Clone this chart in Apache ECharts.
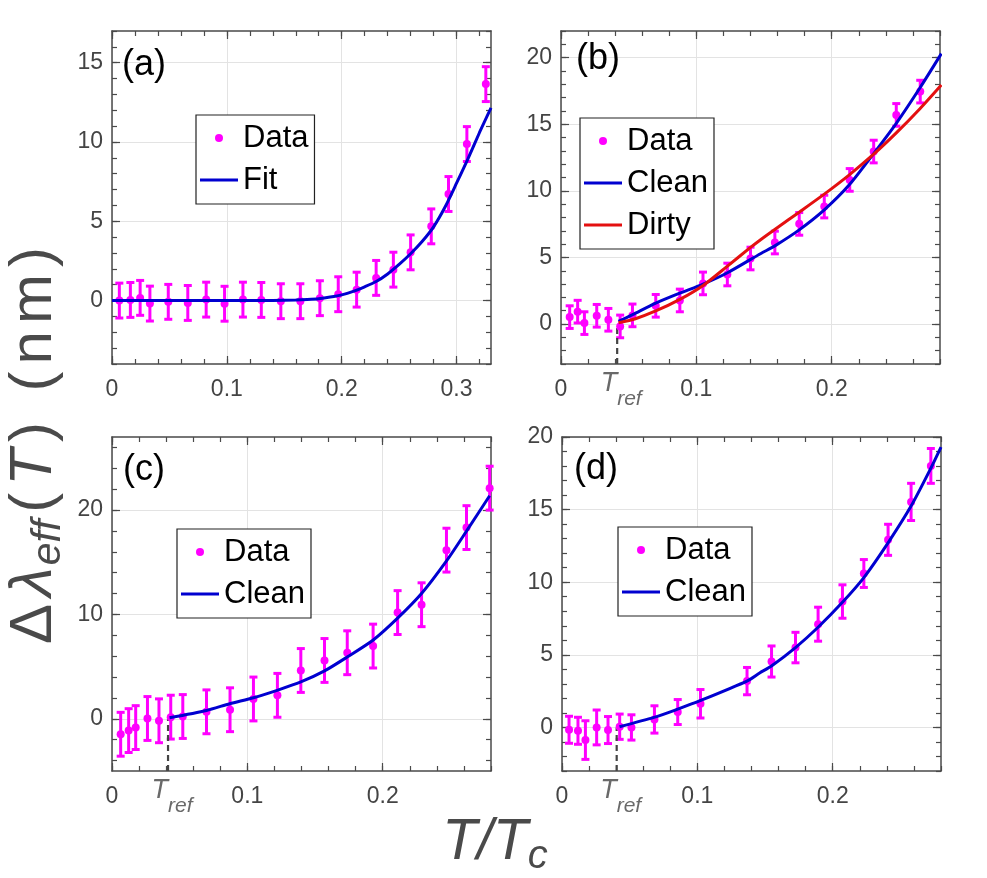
<!DOCTYPE html>
<html>
<head>
<meta charset="utf-8">
<script src="https://cdn.jsdelivr.net/npm/echarts@6/dist/echarts.min.js"></script>
<style>
html, body { margin: 0; padding: 0; background: #fff; }
#main { width: 987px; height: 878px; }
</style>
</head>
<body>
<div id="main"></div>
<script>
// ---- panel (a) ----
var tA = [0.0064, 0.016, 0.0245, 0.033, 0.049, 0.066, 0.082, 0.098, 0.114, 0.130, 0.147, 0.164, 0.181, 0.197, 0.213, 0.230, 0.245, 0.260, 0.278, 0.293, 0.309, 0.3255];
var yA = [0, 0.04, 0.17, -0.19, -0.08, -0.15, 0.06, -0.2, 0.06, 0.04, -0.04, -0.04, 0.15, 0.4, 0.69, 1.43, 1.95, 3.04, 4.68, 6.72, 9.87, 13.65];
var errA = 1.1;
var fitA = [[0, 0], [0.05, 0], [0.1, 0], [0.14, 0.01], [0.16, 0.04], [0.17, 0.07], [0.18, 0.12], [0.19, 0.22], [0.2, 0.36], [0.21, 0.58], [0.22, 0.87], [0.23, 1.2], [0.24, 1.68], [0.25, 2.28], [0.26, 2.95], [0.27, 3.72], [0.28, 4.65], [0.29, 5.9], [0.3, 7.4], [0.31, 8.95], [0.32, 10.6], [0.33, 12.15]];

// ---- panel (b) ----
var tB = [0.0064, 0.0123, 0.0173, 0.0264, 0.035, 0.0437, 0.0528, 0.070, 0.0878, 0.1049, 0.1229, 0.140, 0.158, 0.176, 0.1945, 0.2133, 0.231, 0.2477, 0.2654];
var yB = [0.52, 0.93, 0.07, 0.62, 0.32, -0.18, 0.65, 1.37, 1.77, 3.05, 3.72, 4.92, 6.12, 7.52, 8.82, 10.82, 12.95, 15.7, 17.45];
var errB = 0.85;
var cleanB = [[0.0425, 0.2], [0.0528, 0.7], [0.07, 1.57], [0.0878, 2.32], [0.105, 3.0], [0.123, 3.85], [0.1477, 5.3], [0.158, 5.87], [0.176, 7.07], [0.1945, 8.57], [0.213, 10.45], [0.231, 12.8], [0.2477, 15.07], [0.265, 17.7], [0.281, 20.3]];
var dirtyB = [[0.0425, 0.1], [0.055, 0.4], [0.07, 0.98], [0.0878, 1.85], [0.105, 2.9], [0.123, 4.35], [0.14, 5.75], [0.1477, 6.35], [0.16, 7.25], [0.176, 8.4], [0.1945, 9.75], [0.213, 11.2], [0.231, 12.75], [0.2477, 14.35], [0.265, 16.15], [0.281, 17.95]];
var trefB = 0.0415;

// ---- panel (c) ----
var tC = [0.0064, 0.0123, 0.0175, 0.0262, 0.0347, 0.0434, 0.0523, 0.0698, 0.0872, 0.1045, 0.1222, 0.1395, 0.157, 0.1738, 0.1929, 0.211, 0.2287, 0.2471, 0.2619, 0.279];
var yC = [-1.48, -1.13, -0.84, 0.03, -0.19, 0.16, 0.22, 0.67, 0.87, 1.9, 2.25, 4.63, 5.59, 6.33, 6.97, 10.18, 10.93, 16.16, 18.32, 22.1];
var errC = 2.1;
var cleanC = [[0.0425, 0.1], [0.0698, 0.8], [0.087, 1.45], [0.1045, 2.02], [0.122, 2.73], [0.1395, 3.53], [0.157, 4.59], [0.174, 5.94], [0.193, 7.55], [0.211, 9.64], [0.229, 12.05], [0.247, 15.1], [0.262, 18.0], [0.279, 21.37]];
var trefC = 0.0414;

// ---- panel (d) ----
var tD = [0.0052, 0.0118, 0.0173, 0.0256, 0.034, 0.0426, 0.0513, 0.0683, 0.0855, 0.1023, 0.1367, 0.1548, 0.1725, 0.1892, 0.2072, 0.223, 0.2409, 0.2579, 0.2725];
var yD = [-0.16, -0.23, -0.87, 0, -0.18, 0.05, 0, 0.55, 1.06, 1.63, 3.19, 4.54, 5.5, 7.11, 8.67, 10.6, 12.92, 15.53, 18.01];
var errD = [0.93, 0.93, 1.33, 1.2, 0.93, 0.87, 0.87, 0.94, 0.86, 0.98, 0.94, 1.07, 1.05, 1.17, 1.15, 0.96, 1.07, 1.28, 1.2];
var cleanD = [[0.0425, 0.05], [0.068, 0.69], [0.0855, 1.26], [0.102, 1.84], [0.137, 3.21], [0.146, 3.75], [0.155, 4.25], [0.1725, 5.5], [0.189, 6.88], [0.207, 8.6], [0.223, 10.32], [0.241, 12.73], [0.258, 15.26], [0.2725, 17.85], [0.28, 19.3]];
var trefD = 0.0404;

// axis ranges and tick labels
var xTicksA = [0, 0.1, 0.2, 0.3];
var xTicks = [0, 0.1, 0.2];
var yTicksA = [0, 5, 10, 15];
var yTicksB = [0, 5, 10, 15, 20];
var yTicksC = [0, 10, 20];
var yTicksD = [0, 5, 10, 15, 20];

var MAG = '#ff00ff', BLUE = '#0000d0', RED = '#e41010', AX = '#4a4a4a';
var FONT = 'Liberation Sans, Arial, sans-serif';
var LINE_ICON = 'path://M0,0H38V3H0Z';
var TITLE = '#4a4a4a';

var grids = [
    {left: 112, top: 31, width: 379, height: 333},
    {left: 561, top: 31, width: 379, height: 333},
    {left: 112, top: 437, width: 379, height: 334},
    {left: 562, top: 437, width: 379, height: 334}
];

function steps(min, max, step) {
    var out = [];
    for (var v = Math.ceil(min / step) * step; v <= max + 1e-9; v += step) {
        out.push(Math.round(v * 1000) / 1000);
    }
    return out;
}

var xAxes = [], yAxes = [];
function addAxes(list, dim, gi, min, max, majors, minorStep) {
    var sides = dim === 'x' ? ['bottom', 'top'] : ['left', 'right'];
    var minors = steps(min, max, minorStep);
    sides.forEach(function (pos, k) {
        list.push({
            type: 'value', gridIndex: gi, position: pos, min: min, max: max,
            axisLine: {show: true, onZero: false, lineStyle: {color: AX, width: 1.5}},
            axisTick: {show: true, inside: true, length: 8, customValues: majors, lineStyle: {color: AX, width: 1.2}},
            axisLabel: {show: k === 0, customValues: majors, color: '#444', fontSize: 23, fontFamily: FONT,
                margin: dim === 'x' ? 14 : 9},
            splitLine: {show: k === 0, lineStyle: {color: '#e3e3e3', width: 1}}
        });
        list.push({
            type: 'value', gridIndex: gi, position: pos, min: min, max: max,
            axisLine: {show: false, onZero: false},
            axisTick: {show: true, inside: true, length: 5, customValues: minors, lineStyle: {color: AX, width: 1.2}},
            axisLabel: {show: false},
            splitLine: {show: false}
        });
    });
}
addAxes(xAxes, 'x', 0, 0, 0.33, xTicksA, 0.02);
addAxes(xAxes, 'x', 1, 0, 0.28, xTicks, 0.02);
addAxes(xAxes, 'x', 2, 0, 0.28, xTicks, 0.02);
addAxes(xAxes, 'x', 3, 0, 0.28, xTicks, 0.02);
addAxes(yAxes, 'y', 0, -4, 17, yTicksA, 1);
addAxes(yAxes, 'y', 1, -3, 22, yTicksB, 1);
addAxes(yAxes, 'y', 2, -5, 27, yTicksC, 2);
addAxes(yAxes, 'y', 3, -3, 20, yTicksD, 1);

function errRender(params, api) {
    var x = api.value(0);
    var p1 = api.coord([x, api.value(1)]);
    var p2 = api.coord([x, api.value(2)]);
    var w = 4;
    var st = {stroke: MAG, lineWidth: 3};
    return {type: 'group', children: [
        {type: 'line', shape: {x1: p1[0], y1: p1[1], x2: p2[0], y2: p2[1]}, style: st},
        {type: 'line', shape: {x1: p1[0] - w, y1: p1[1], x2: p1[0] + w, y2: p1[1]}, style: st},
        {type: 'line', shape: {x1: p2[0] - w, y1: p2[1], x2: p2[0] + w, y2: p2[1]}, style: st}
    ]};
}

var series = [];
function addPanel(gi, t, y, err, curves, tref, ymin) {
    var pts = [], bars = [];
    for (var i = 0; i < t.length; i++) {
        var e = Array.isArray(err) ? err[i] : err;
        pts.push([t[i], y[i]]);
        bars.push([t[i], y[i] - e, y[i] + e]);
    }
    var ax = {xAxisIndex: gi * 4, yAxisIndex: gi * 4};
    series.push(Object.assign({type: 'custom', name: 'err' + gi, renderItem: errRender, data: bars, z: 2}, ax));
    series.push(Object.assign({type: 'scatter', name: 'Data', data: pts, symbolSize: 8,
        itemStyle: {color: MAG, opacity: 1}, z: 3}, ax));
    curves.forEach(function (c) {
        series.push(Object.assign({type: 'line', name: c.name, data: c.data, symbol: 'none', smooth: 0.25,
            lineStyle: {color: c.color, width: 3}, itemStyle: {color: c.color}, z: 4}, ax));
    });
    if (tref !== null) {
        series.push(Object.assign({type: 'line', name: 'tref' + gi, data: [[tref, ymin], [tref, 0]], symbol: 'none',
            lineStyle: {color: '#444', width: 2.2, type: [6, 4]}, z: 3}, ax));
        series.push(Object.assign({type: 'scatter', name: 'treflabel' + gi, data: [[tref, ymin]], symbolSize: 0,
            silent: true,
            label: {show: true, position: 'bottom', distance: 6, offset: [4, 0],
                formatter: '{t|T}{r|ref}',
                rich: {
                    t: {fontSize: 27, fontStyle: 'italic', color: '#444', fontFamily: FONT, verticalAlign: 'top'},
                    r: {fontSize: 21, fontStyle: 'italic', color: '#444', fontFamily: FONT, verticalAlign: 'top', padding: [19, 0, 0, 0]}
                }}}, ax));
    }
}
addPanel(0, tA, yA, errA, [{name: 'Fit', data: fitA, color: BLUE}], null, -4);
addPanel(1, tB, yB, errB, [{name: 'Clean', data: cleanB, color: BLUE}, {name: 'Dirty', data: dirtyB, color: RED}], trefB, -3);
addPanel(2, tC, yC, errC, [{name: 'Clean', data: cleanC, color: BLUE}], trefC, -5);
addPanel(3, tD, yD, errD, [{name: 'Clean', data: cleanD, color: BLUE}], trefD, -3);

function legendAt(left, top, names) {
    return {
        left: left, top: top, orient: 'vertical', selectedMode: false,
        data: names.map(function (n) { return {name: n, icon: n === 'Data' ? 'circle' : LINE_ICON}; }),
        itemWidth: 38, itemHeight: 8, itemGap: 8,
        padding: [6, 6, 7, 4],
        backgroundColor: '#fff', borderColor: '#222', borderWidth: 1.2, borderRadius: 0,
        textStyle: {fontSize: 31, color: '#000', fontFamily: FONT, lineHeight: 34}
    };
}

var panelLabel = function (txt, x, y) {
    return {type: 'text', left: x, top: y, z: 100,
        style: {text: txt, fontSize: 36, fill: '#000', fontFamily: FONT}};
};

// y title, one token per glyph so the letters can be spaced out a little
var yTitleParts = [['n', '\u0394'], ['l', '\u03bb'], ['s', 'eff'], ['n', '('], ['i', 'T'],
    ['n', ')'], ['n', ' '], ['n', '('], ['n', 'n'], ['n', 'm'], ['n', ')']];
var yTitleText = yTitleParts.map(function (p) { return '{' + p[0] + '|' + p[1] + '}'; }).join('');
var SP = 7;

var option = {
    animation: false,
    backgroundColor: '#fff',
    grid: grids,
    xAxis: xAxes,
    yAxis: yAxes,
    legend: [
        legendAt(196, 115, ['Data', 'Fit']),
        legendAt(580, 118, ['Data', 'Clean', 'Dirty']),
        legendAt(177, 529, ['Data', 'Clean']),
        legendAt(618, 527, ['Data', 'Clean'])
    ],
    graphic: [
        panelLabel('(a)', 122, 47),
        panelLabel('(b)', 576, 41),
        panelLabel('(c)', 123, 452),
        panelLabel('(d)', 574, 451),
        {type: 'text', x: 34, y: 442, rotation: Math.PI / 2, z: 100,
            style: {text: yTitleText, align: 'center', verticalAlign: 'middle',
                rich: {
                    n: {fontSize: 60, fill: TITLE, fontFamily: FONT, padding: [0, SP, 0, 0]},
                    l: {fontSize: 60, fill: TITLE, fontFamily: FONT, fontStyle: 'italic', padding: [0, 2, 0, 0]},
                    s: {fontSize: 41, fill: TITLE, fontFamily: FONT, fontStyle: 'italic', padding: [29, SP, 0, 0]},
                    i: {fontSize: 60, fill: TITLE, fontFamily: FONT, fontStyle: 'italic', padding: [0, SP, 0, 0]}
                }}},
        {type: 'text', x: 495, y: 843, z: 100,
            style: {text: '{i|T/T}{s|c}', align: 'center', verticalAlign: 'middle',
                rich: {
                    i: {fontSize: 57, fill: TITLE, fontFamily: FONT, fontStyle: 'italic'},
                    s: {fontSize: 40, fill: TITLE, fontFamily: FONT, fontStyle: 'italic', padding: [28, 0, 0, 0]}
                }}}
    ],
    series: series
};

var chart = echarts.init(document.getElementById('main'));
chart.setOption(option);
</script>
</body>
</html>
